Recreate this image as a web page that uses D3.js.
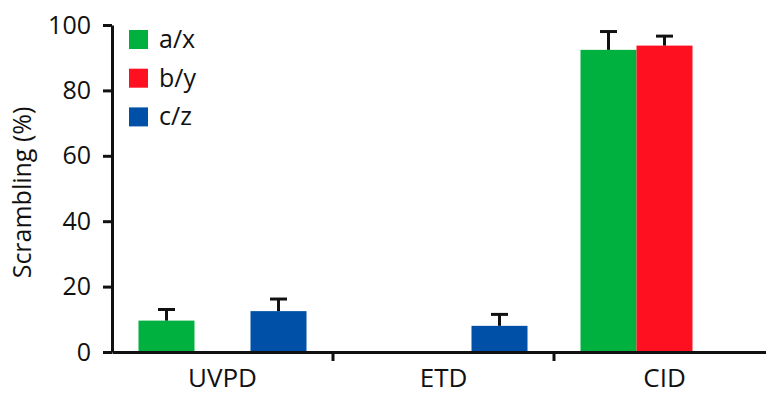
<!DOCTYPE html>
<html>
<head>
<meta charset="utf-8">
<script src="https://cdn.jsdelivr.net/npm/d3@7"></script>
<style>
  body { margin: 0; background: #fff; }
  text { font-family: "Open Sans", sans-serif; fill: #111; }
</style>
</head>
<body>
<svg id="chart" width="766" height="394"></svg>
<script>
// Data
var methods = ["UVPD", "ETD", "CID"];
var series = ["a/x", "b/y", "c/z"];
var colors = ["#00b140", "#ff1020", "#0050a8"];
// null = no bar
var values = [
  [9.6, null, 92.4],   // a/x
  [null, null, 93.7],  // b/y
  [12.5, 8.0, null]    // c/z
];
var errors = [
  [3.4, null, 5.6],
  [null, null, 2.9],
  [3.7, 3.5, null]
];
var yTicks = [0, 20, 40, 60, 80, 100];

var svg = d3.select("#chart");
var mLeft = 112, mRight = 775, mTop = 25, mBottom = 352;

// Scales
var x = d3.scaleBand().domain(methods).range([mLeft, mRight]).paddingInner(0).paddingOuter(0);
var xSub = d3.scaleBand().domain(series).range([26.5, x.bandwidth() - 26.5]);
var y = d3.scaleLinear().domain([0, 100]).range([mBottom, mTop]);

// Bars
var bars = [];
series.forEach(function(s, i) {
  methods.forEach(function(m, j) {
    if (values[i][j] != null) bars.push({ s: s, m: m, v: values[i][j], e: errors[i][j], c: colors[i] });
  });
});

svg.selectAll("rect.bar")
   .data(bars)
   .enter()
   .append("rect")
   .attr("class", "bar")
   .attr("x", function(d) { return x(d.m) + xSub(d.s); })
   .attr("width", xSub.bandwidth())
   .attr("y", function(d) { return y(d.v); })
   .attr("height", function(d) { return y(0) - y(d.v); })
   .attr("fill", function(d) { return d.c; });

// Error bars (upper only)
var eb = svg.selectAll("g.err")
            .data(bars)
            .enter()
            .append("g")
            .attr("class", "err")
            .attr("stroke", "#111")
            .attr("stroke-width", 3);
eb.append("line")
  .attr("x1", function(d) { return x(d.m) + xSub(d.s) + xSub.bandwidth()/2; })
  .attr("x2", function(d) { return x(d.m) + xSub(d.s) + xSub.bandwidth()/2; })
  .attr("y1", function(d) { return y(d.v); })
  .attr("y2", function(d) { return y(d.v + d.e); });
eb.append("line")
  .attr("x1", function(d) { return x(d.m) + xSub(d.s) + xSub.bandwidth()/2 - 8.5; })
  .attr("x2", function(d) { return x(d.m) + xSub(d.s) + xSub.bandwidth()/2 + 8.5; })
  .attr("y1", function(d) { return y(d.v + d.e); })
  .attr("y2", function(d) { return y(d.v + d.e); });

// Y axis
var yAxis = svg.append("g")
               .attr("transform", "translate(" + mLeft + ",0)")
               .call(d3.axisLeft(y).tickValues(yTicks).tickSize(9).tickSizeOuter(0).tickPadding(12));
yAxis.select(".domain").attr("stroke", "#111").attr("stroke-width", 3);
yAxis.selectAll(".tick line").attr("stroke", "#111").attr("stroke-width", 3);
yAxis.selectAll(".tick text").style("font-size", "25px").attr("fill", "#111");

// X axis
var xAxis = svg.append("g")
               .attr("transform", "translate(0," + mBottom + ")")
               .call(d3.axisBottom(x).tickSize(0).tickPadding(17));
xAxis.select(".domain").attr("stroke", "#111").attr("stroke-width", 3);
xAxis.selectAll(".tick text").style("font-size", "26px").attr("fill", "#111").attr("dy", "0.71em");
// boundary ticks between groups
xAxis.selectAll("line.sep")
     .data(methods.slice(1))
     .enter()
     .append("line")
     .attr("class", "sep")
     .attr("x1", function(d) { return x(d); })
     .attr("x2", function(d) { return x(d); })
     .attr("y1", 0)
     .attr("y2", 9)
     .attr("stroke", "#111")
     .attr("stroke-width", 3);

// Y title
svg.append("text")
   .attr("transform", "translate(31," + ((mTop + mBottom)/2 + 4) + ") rotate(-90)")
   .attr("text-anchor", "middle")
   .style("font-size", "25px")
   .text("Scrambling (%)");

// Legend
var legend = svg.selectAll("g.legend")
                .data(series)
                .enter()
                .append("g")
                .attr("class", "legend")
                .attr("transform", function(d, i) { return "translate(129," + (30 + i*38.7) + ")"; });
legend.append("rect")
      .attr("width", 19)
      .attr("height", 19)
      .attr("fill", function(d, i) { return colors[i]; });
legend.append("text")
      .attr("x", 30)
      .attr("y", 18)
      .style("font-size", "25px")
      .text(function(d) { return d; });
</script>
</body>
</html>
